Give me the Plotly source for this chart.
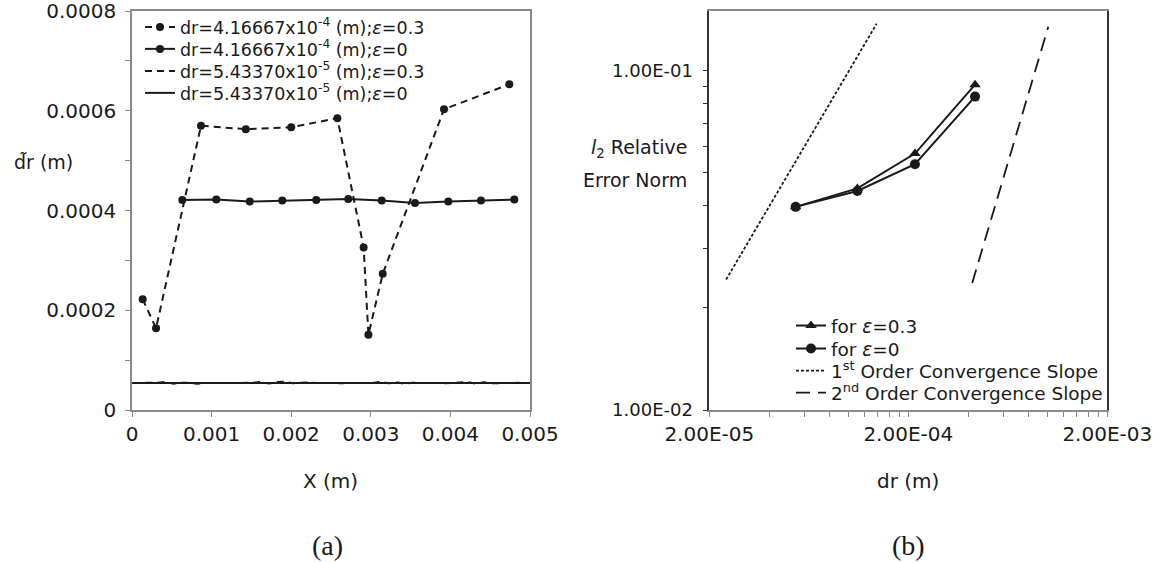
import plotly.graph_objects as go
import math

# ---------------- data: panel (a) ----------------
a1_x = [0.000134, 0.000302, 0.000867, 0.00143, 0.00200, 0.00258, 0.00291, 0.00297, 0.00315, 0.00392, 0.00474]
a1_y = [0.000222, 0.000164, 0.000570, 0.000563, 0.000567, 0.000585, 0.000326, 0.000151, 0.000273, 0.000603, 0.000653]

a2_x = [0.000632, 0.001059, 0.001479, 0.001888, 0.002315, 0.002717, 0.003137, 0.003555, 0.003974, 0.004384, 0.004803]
a2_y = [0.000421, 0.000422, 0.000418, 0.000420, 0.000421, 0.000423, 0.000420, 0.000415, 0.000418, 0.000420, 0.000422]

a3_x = [0.00002, 0.00012, 0.00022, 0.00032, 0.00042, 0.00052, 0.00062, 0.00072, 0.00082, 0.00092,
        0.00102, 0.00112, 0.00122, 0.00132, 0.00142, 0.00152, 0.00162, 0.00172, 0.00182, 0.00192,
        0.00202, 0.00212, 0.00222, 0.00232, 0.00242, 0.00252, 0.00262, 0.00272, 0.00282, 0.00292,
        0.00302, 0.00312, 0.00322, 0.00332, 0.00342, 0.00352, 0.00362, 0.00372, 0.00382, 0.00392,
        0.00402, 0.00412, 0.00422, 0.00432, 0.00442, 0.00452, 0.00462, 0.00472, 0.00482, 0.00492]
a3_y = [5.43e-5, 5.40e-5, 5.43e-5, 5.46e-5, 5.62e-5, 5.28e-5, 5.48e-5, 5.45e-5, 5.25e-5, 5.43e-5,
        5.40e-5, 5.43e-5, 5.41e-5, 5.43e-5, 5.42e-5, 5.45e-5, 5.65e-5, 5.30e-5, 5.60e-5, 5.68e-5,
        5.38e-5, 5.45e-5, 5.52e-5, 5.40e-5, 5.48e-5, 5.42e-5, 5.38e-5, 5.43e-5, 5.41e-5, 5.45e-5,
        5.43e-5, 5.66e-5, 5.35e-5, 5.55e-5, 5.30e-5, 5.45e-5, 5.40e-5, 5.43e-5, 5.42e-5, 5.38e-5,
        5.43e-5, 5.45e-5, 5.60e-5, 5.28e-5, 5.55e-5, 5.35e-5, 5.43e-5, 5.40e-5, 5.44e-5, 5.43e-5]

a4_x = [0.0, 0.005]
a4_y = [5.4337e-5, 5.4337e-5]

a_names = ["dr=4.16667x10<sup>-4</sup> (m);<i>ε</i>=0.3",
           "dr=4.16667x10<sup>-4</sup> (m);<i>ε</i>=0",
           "dr=5.43370x10<sup>-5</sup> (m);<i>ε</i>=0.3",
           "dr=5.43370x10<sup>-5</sup> (m);<i>ε</i>=0"]

a_xticks = [0, 0.001, 0.002, 0.003, 0.004, 0.005]
a_xtext = ["0", "0.001", "0.002", "0.003", "0.004", "0.005"]
a_yticks = [0, 0.0002, 0.0004, 0.0006, 0.0008]
a_ytext = ["0", "0.0002", "0.0004", "0.0006", "0.0008"]

# ---------------- data: panel (b) ----------------
b_dr = [5.43e-5, 1.11e-4, 2.16e-4, 4.33e-4]
b_eps03 = [0.0397, 0.0450, 0.0570, 0.0910]
b_eps0 = [0.0397, 0.0442, 0.0530, 0.0839]

slope1_x = [2.43e-5, 1.388e-4]
slope1_y = [0.02424, 0.1377]
slope2_x = [4.19e-4, 1.01e-3]
slope2_y = [0.02368, 0.1347]

b_names = ["for <i>ε</i>=0.3", "for <i>ε</i>=0",
           "1<sup>st</sup> Order Convergence Slope", "2<sup>nd</sup> Order Convergence Slope"]

b_xticks = [2e-5, 2e-4, 2e-3]
b_xtext = ["2.00E-05", "2.00E-04", "2.00E-03"]
b_yticks = [0.01, 0.1]
b_ytext = ["1.00E-02", "1.00E-01"]
b_xminor = [4e-5, 6e-5, 8e-5, 1e-4, 1.2e-4, 1.4e-4, 1.6e-4, 1.8e-4,
            4e-4, 6e-4, 8e-4, 1e-3, 1.2e-3, 1.4e-3, 1.6e-3, 1.8e-3]
b_yminor = [0.02, 0.03, 0.04, 0.05, 0.06, 0.07, 0.08, 0.09]

# ---------------- figure ----------------
W, H = 1173, 563
FONT = "DejaVu Sans"
INK = "#1a1a1a"
AXC = "#8a8a8a"

fig = go.Figure()

fig.add_trace(go.Scatter(x=a1_x, y=a1_y, mode="lines+markers", xaxis="x", yaxis="y",
                         line=dict(color=INK, width=2, dash="7px,5px"),
                         marker=dict(symbol="circle", size=8, color=INK),
                         name=a_names[0], legend="legend"))
fig.add_trace(go.Scatter(x=a2_x, y=a2_y, mode="lines+markers", xaxis="x", yaxis="y",
                         line=dict(color=INK, width=2),
                         marker=dict(symbol="circle", size=8, color=INK),
                         name=a_names[1], legend="legend2"))
fig.add_trace(go.Scatter(x=a3_x, y=a3_y, mode="lines", xaxis="x", yaxis="y",
                         line=dict(color=INK, width=2, dash="7px,5px"),
                         name=a_names[2], legend="legend3"))
fig.add_trace(go.Scatter(x=a4_x, y=a4_y, mode="lines", xaxis="x", yaxis="y",
                         line=dict(color=INK, width=2),
                         name=a_names[3], legend="legend4"))

fig.add_trace(go.Scatter(x=b_dr, y=b_eps03, mode="lines+markers", xaxis="x2", yaxis="y2",
                         line=dict(color=INK, width=2),
                         marker=dict(symbol="triangle-up", size=10, color=INK),
                         name=b_names[0], legend="legend5"))
fig.add_trace(go.Scatter(x=b_dr, y=b_eps0, mode="lines+markers", xaxis="x2", yaxis="y2",
                         line=dict(color=INK, width=2),
                         marker=dict(symbol="circle", size=10, color=INK),
                         name=b_names[1], legend="legend6"))
fig.add_trace(go.Scatter(x=slope1_x, y=slope1_y, mode="lines", xaxis="x2", yaxis="y2",
                         line=dict(color=INK, width=1.8, dash="3px,2px"),
                         name=b_names[2], legend="legend7"))
fig.add_trace(go.Scatter(x=slope2_x, y=slope2_y, mode="lines", xaxis="x2", yaxis="y2",
                         line=dict(color=INK, width=1.8, dash="14px,8px"),
                         name=b_names[3], legend="legend8"))

y_dom = [(H - 410) / H, (H - 11) / H]

common = dict(showgrid=False, zeroline=False, showline=True, mirror=True, automargin=False,
              ticks="outside", ticklen=5, tickwidth=1.2, ticklabeloverflow="allow")

layout = dict(
    width=W, height=H, autosize=False,
    margin=dict(l=0, r=0, t=0, b=0, pad=0, autoexpand=False),
    paper_bgcolor="white", plot_bgcolor="white",
    font=dict(family=FONT, color=INK),
    showlegend=True,
    xaxis=dict(domain=[132 / W, 530 / W], range=[0, 0.005], anchor="y",
               tickmode="array", tickvals=a_xticks, ticktext=a_xtext,
               tickfont=dict(family=FONT, size=20, color=INK),
               linecolor=AXC, linewidth=1.5, tickcolor=AXC, **common),
    yaxis=dict(domain=y_dom, range=[0, 0.0008], anchor="x",
               tickmode="array", tickvals=a_yticks, ticktext=a_ytext,
               tickfont=dict(family=FONT, size=20, color=INK),
               linecolor=AXC, linewidth=1.5, tickcolor=AXC,
               minor=dict(ticks="outside", dtick=0.0001, tick0=0, ticklen=5, tickcolor=AXC),
               ticklabelstandoff=5, **common),
    xaxis2=dict(domain=[709.3 / W, 1107.3 / W], type="log",
                range=[math.log10(2e-5), math.log10(2e-3)], anchor="y2",
                tickmode="array", tickvals=b_xticks, ticktext=b_xtext,
                tickfont=dict(family=FONT, size=20, color=INK),
                linecolor=AXC, linewidth=1.5, tickcolor=AXC,
                minor=dict(ticks="outside", tickmode="array", tickvals=b_xminor, ticklen=5, tickcolor=AXC),
                **common),
    yaxis2=dict(domain=y_dom, type="log", range=[-2, math.log10(0.15)], anchor="x2",
                tickmode="array", tickvals=b_yticks, ticktext=b_ytext,
                tickfont=dict(family=FONT, size=18, color=INK),
                linecolor="#333333", linewidth=1.5, tickcolor="#333333",
                minor=dict(ticks="outside", tickmode="array", tickvals=b_yminor, ticklen=5, tickcolor="#333333"),
                ticklabelstandoff=6, **common),
)

# one legend box per entry so that row spacing can follow the reference
a_rows = [27, 49, 71, 93]
b_rows = [326, 349, 371, 393]
for i, r in enumerate(a_rows):
    key = "legend" if i == 0 else f"legend{i + 1}"
    layout[key] = dict(x=140 / W, y=1 - r / H, xanchor="left", yanchor="middle",
                       bgcolor="rgba(0,0,0,0)", font=dict(family=FONT, size=17.5, color=INK),
                       itemwidth=30, borderwidth=0)
for i, r in enumerate(b_rows):
    key = f"legend{i + 5}"
    layout[key] = dict(x=791 / W, y=1 - r / H, xanchor="left", yanchor="middle",
                       bgcolor="rgba(0,0,0,0)", font=dict(family=FONT, size=18.5, color=INK),
                       itemwidth=30, borderwidth=0)

fig.update_layout(**layout)

ann = [
    dict(text="d\u0303r (m)", x=75 / W, y=1 - 162 / H, xanchor="right", yanchor="middle",
         font=dict(family=FONT, size=19, color=INK)),
    dict(text="X (m)", x=330 / W, y=1 - 481 / H, xanchor="center", yanchor="middle",
         font=dict(family=FONT, size=20, color=INK)),
    dict(text="dr (m)", x=908 / W, y=1 - 481 / H, xanchor="center", yanchor="middle",
         font=dict(family=FONT, size=20, color=INK)),
    dict(text="<i>l</i><sub>2</sub> Relative", x=689 / W, y=1 - 148 / H,
         xanchor="right", yanchor="middle", font=dict(family=FONT, size=19, color=INK)),
    dict(text="Error Norm", x=689 / W, y=1 - 180 / H,
         xanchor="right", yanchor="middle", font=dict(family=FONT, size=19, color=INK)),
    dict(text="(a)", x=327 / W, y=1 - 545 / H, xanchor="center", yanchor="middle",
         font=dict(family="Liberation Serif", size=28, color=INK)),
    dict(text="(b)", x=908 / W, y=1 - 545 / H, xanchor="center", yanchor="middle",
         font=dict(family="Liberation Serif", size=28, color=INK)),
]
for a in ann:
    a.update(xref="paper", yref="paper", showarrow=False)
fig.update_layout(annotations=ann)

fig.write_html("out.html")
